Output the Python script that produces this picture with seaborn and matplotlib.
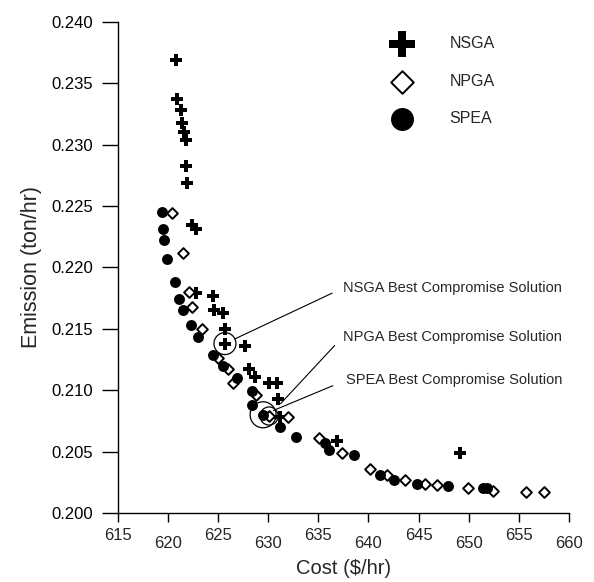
import numpy as np
import pandas as pd
import matplotlib
matplotlib.use("Agg")
import matplotlib.pyplot as plt
import seaborn as sns

# ================================
# data
# ================================
nsga_cost = [620.8, 620.9, 621.3, 621.4, 621.6, 621.8, 621.8, 621.9, 622.4, 622.8,
             622.8, 624.5, 624.6, 625.5, 625.7, 625.7, 627.7, 628.1, 628.7, 630.1,
             630.9, 631.0, 631.2, 636.9, 649.1]
nsga_emission = [0.2369, 0.2337, 0.2328, 0.2318, 0.2310, 0.2304, 0.2283, 0.2269, 0.2235, 0.2231,
                 0.2179, 0.2177, 0.2165, 0.2163, 0.2150, 0.2138, 0.2136, 0.2117, 0.2111, 0.2106,
                 0.2106, 0.2093, 0.2078, 0.2059, 0.2049]

npga_cost = [620.4, 621.5, 622.1, 622.4, 623.4, 625.0, 626.0, 626.5, 628.8, 630.1,
             632.0, 635.1, 637.4, 640.2, 641.9, 643.6, 645.6, 646.8, 649.9, 652.4,
             655.7, 657.5]
npga_emission = [0.2244, 0.2212, 0.2180, 0.2168, 0.2150, 0.2126, 0.2117, 0.2106, 0.2096, 0.2079,
                 0.2078, 0.2061, 0.2049, 0.2036, 0.2031, 0.2027, 0.2024, 0.2023, 0.2020, 0.2018,
                 0.2017, 0.2017]

spea_cost = [619.4, 619.5, 619.6, 619.9, 620.7, 621.1, 621.5, 622.3, 623.0, 624.5,
             625.5, 626.9, 628.4, 628.4, 629.5, 631.2, 632.8, 635.7, 636.1, 638.6,
             641.2, 642.6, 644.8, 647.9, 651.4, 651.8]
spea_emission = [0.2245, 0.2231, 0.2222, 0.2207, 0.2188, 0.2174, 0.2165, 0.2153, 0.2143, 0.2129,
                 0.2120, 0.2110, 0.2099, 0.2088, 0.2080, 0.2070, 0.2062, 0.2057, 0.2051, 0.2047,
                 0.2031, 0.2027, 0.2024, 0.2022, 0.2020, 0.2020]

# best compromise solutions (NSGA, NPGA, SPEA)
best_names = ["NSGA", "NPGA", "SPEA"]
best_cost = [625.7, 630.1, 629.5]
best_emission = [0.2138, 0.2079, 0.2080]

x_ticks = [615, 620, 625, 630, 635, 640, 645, 650, 655, 660]
y_ticks = [0.200, 0.205, 0.210, 0.215, 0.220, 0.225, 0.230, 0.235, 0.240]

# ================================
# style
# ================================
sns.set_style("ticks")
plt.rcParams["font.family"] = ["Liberation Sans", "DejaVu Sans"]

fig = plt.figure(figsize=(5.94, 5.82), dpi=100)
ax = fig.add_axes([0.198, 0.1186, 0.760, 0.8436])

# scatter of the three fronts
sns.scatterplot(x=nsga_cost, y=nsga_emission, marker="P", s=75, color="black",
                linewidth=0, label="NSGA", ax=ax)
sns.scatterplot(x=npga_cost, y=npga_emission, marker="D", s=30, color="white",
                edgecolor="black", linewidth=1.4, label="NPGA", ax=ax)
sns.scatterplot(x=spea_cost, y=spea_emission, marker="o", s=62, color="black",
                linewidth=0, label="SPEA", ax=ax)

# circles round the best compromise points
circle_sizes = [250, 170, 350]
ax.scatter(best_cost, best_emission, s=circle_sizes, facecolors="none",
           edgecolors="black", linewidths=0.9, zorder=4)

# annotation lines + texts
text_offsets = [(85, 40), (53, 57), (60, 25)]
gaps = [6, 5, 8]
shrink_end = [8, 12, 8]
for name, bx, by, off, ga, sb in zip(best_names, best_cost, best_emission, text_offsets, gaps, shrink_end):
    ax.annotate(name + " Best Compromise Solution", xy=(bx, by), xytext=off,
                textcoords="offset points", ha="left", va="center", fontsize=10.5,
                arrowprops=dict(arrowstyle="-", color="black", lw=0.8,
                                shrinkA=ga, shrinkB=sb, relpos=(0, 0.5)))

# axes
ax.set_xlim(615, 660)
ax.set_ylim(0.200, 0.240)
ax.set_xticks(x_ticks)
ax.set_yticks(y_ticks)
ax.set_yticklabels([f"{v:.3f}" for v in y_ticks])
ax.set_ylabel("Emission (ton/hr)", fontsize=15.5, labelpad=7)
ax.set_xlabel("Cost ($/hr)", fontsize=14.5)
ax.xaxis.set_label_coords(0.5, -0.093)
sns.despine(ax=ax)
for sp in ["left", "bottom"]:
    ax.spines[sp].set_linewidth(1.0)
    ax.spines[sp].set_color("black")
ax.tick_params(axis="y", length=11.5, width=1, pad=6, labelsize=12, colors="black")
ax.tick_params(axis="x", length=6.5, width=1, labelbottom=False, colors="black")

# staggered x tick labels: every second one sits lower
for i, v in enumerate(x_ticks):
    drop = 16.5 if i % 2 else 10.5
    ax.annotate(str(v), xy=(v, 0), xycoords=("data", "axes fraction"),
                xytext=(0, -drop), textcoords="offset points",
                ha="center", va="top", fontsize=12, annotation_clip=False)

# legend
leg = ax.legend(loc="upper left", bbox_to_anchor=(0.562, 1.0), frameon=False,
                markerscale=2.1, fontsize=11.5, labelspacing=1.4, handletextpad=2.0)

fig.savefig("out.png", dpi=100)
